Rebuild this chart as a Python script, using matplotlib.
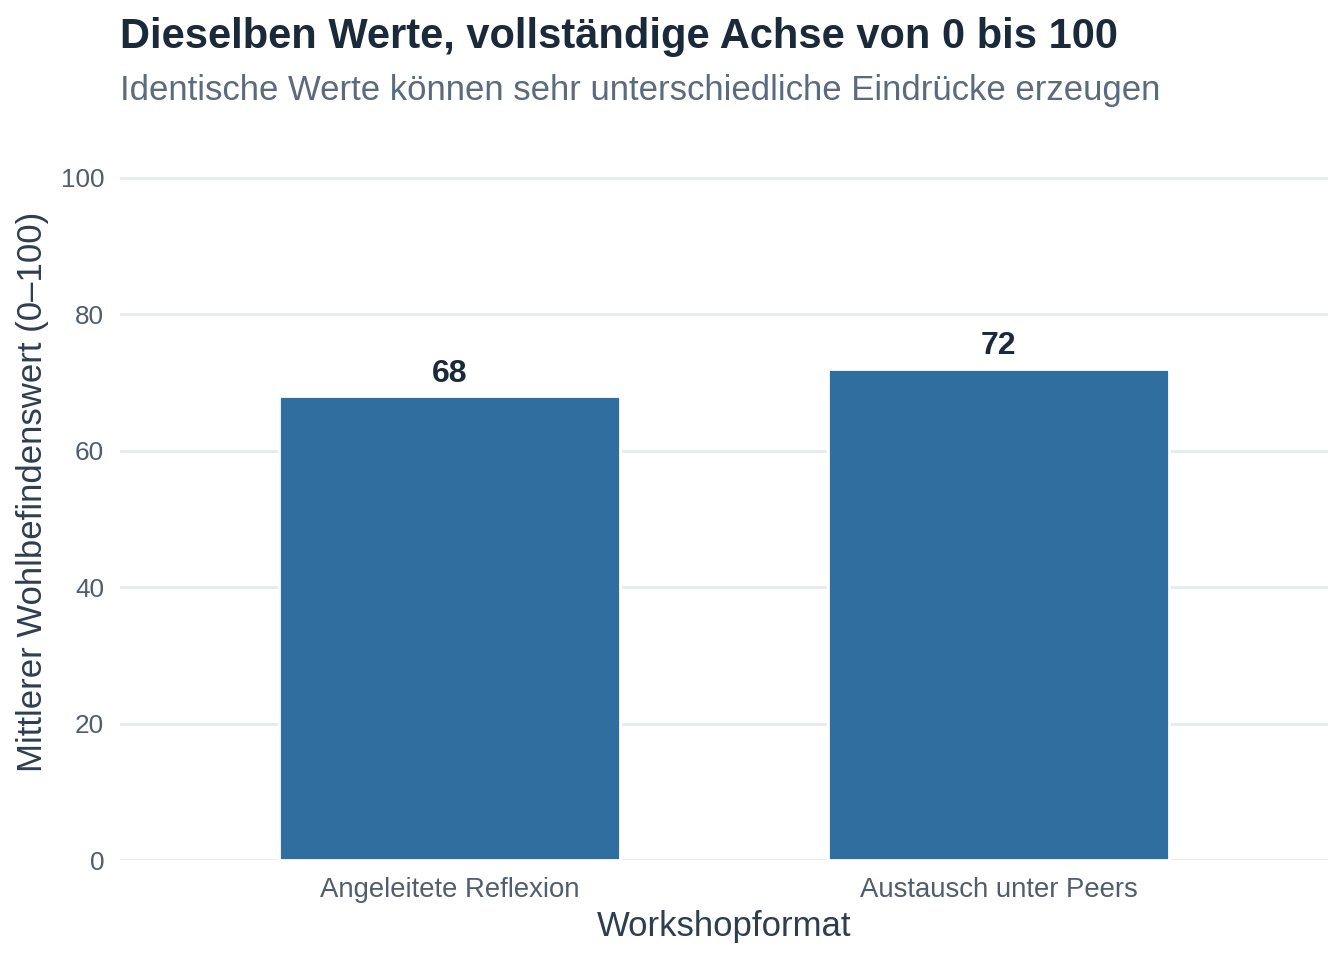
import matplotlib
matplotlib.use("Agg")
import matplotlib.pyplot as plt
import numpy as np

plt.rcParams["font.family"] = ["Liberation Sans", "DejaVu Sans"]

# Daten
formate = ["Angeleitete Reflexion", "Austausch unter Peers"]
werte = [68, 72]
y_ticks = [0, 20, 40, 60, 80, 100]

titel = "Dieselben Werte, vollständige Achse von 0 bis 100"
untertitel = "Identische Werte können sehr unterschiedliche Eindrücke erzeugen"
x_titel = "Workshopformat"
y_titel = "Mittlerer Wohlbefindenswert (0–100)"

balken_farbe = "#2F6E9E"
gitter_farbe = "#E6EBF1"

fig = plt.figure(figsize=(13.44, 9.6), dpi=100)
# Panel: x 120..1328 px, y 123..860 px
ax = fig.add_axes([120 / 1344, 100 / 960, 1208 / 1344, 737 / 960])

x = np.arange(1, len(formate) + 1)
ax.bar(x, werte, width=0.62, color=balken_farbe, edgecolor="white", linewidth=2, zorder=2)
for xi, w in zip(x, werte):
    ax.text(xi, w + 2.1, str(w), ha="center", va="baseline", fontsize=23,
            fontweight="bold", color="#1B2A3A", zorder=3)

ax.set_xlim(0.4, 2.6)
ax.set_ylim(0, 108)
ax.set_yticks(y_ticks)
ax.set_xticks(x)
ax.set_xticklabels(formate)
ax.yaxis.grid(True, color=gitter_farbe, linewidth=2, zorder=0)
ax.xaxis.grid(False)
ax.set_axisbelow(True)
for s in ax.spines.values():
    s.set_visible(False)
ax.tick_params(axis="both", length=0, labelcolor="#4F5D6E")
ax.tick_params(axis="x", pad=12, labelsize=19.8)
ax.tick_params(axis="y", pad=11.5, labelsize=18.8)

ax.set_xlabel(x_titel, fontsize=25, color="#2D3E50", labelpad=5)
ax.set_ylabel(y_titel, fontsize=25, color="#2D3E50", labelpad=8)

fig.text(120 / 1344, 1 - 48 / 960, titel, fontsize=30, fontweight="bold",
         color="#1B2A3A", ha="left", va="baseline")
fig.text(120 / 1344, 1 - 100 / 960, untertitel, fontsize=25,
         color="#5A6B7D", ha="left", va="baseline")

fig.savefig("out.png", dpi=100)
